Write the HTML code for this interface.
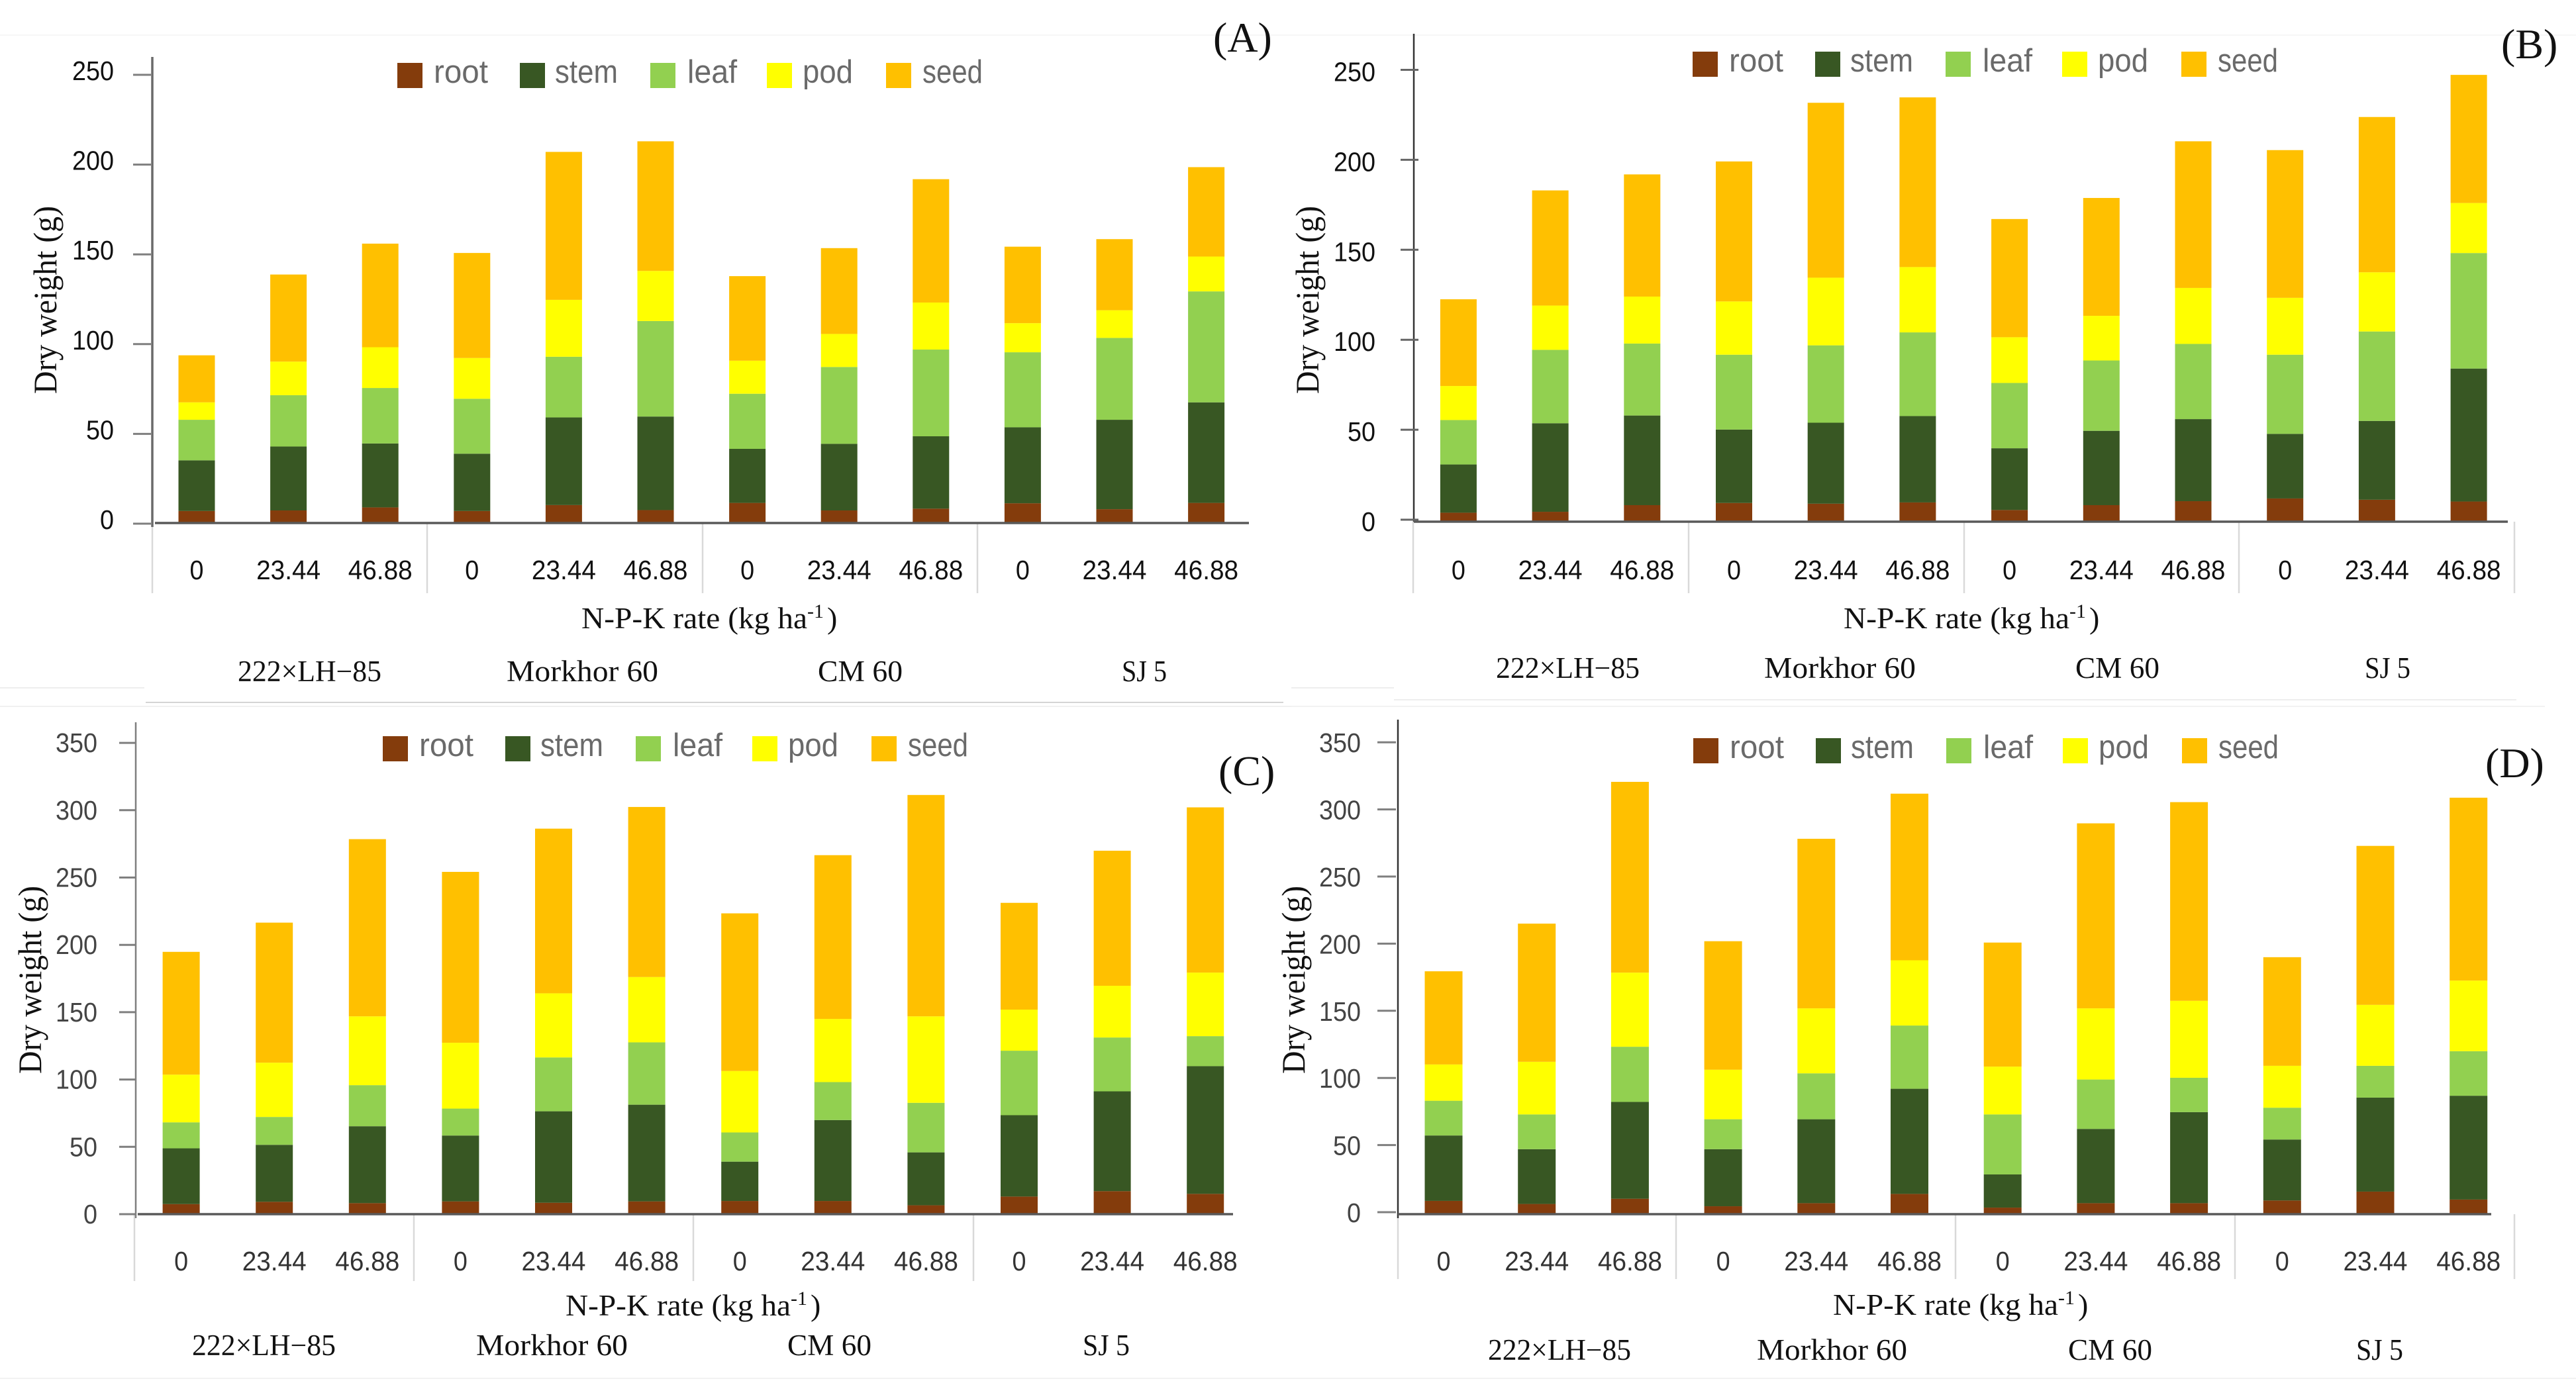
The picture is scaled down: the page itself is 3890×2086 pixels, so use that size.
<!DOCTYPE html>
<html lang="en">
<head>
<meta charset="utf-8">
<title>Dry weight by N-P-K rate</title>
<style>
html,body{margin:0;padding:0;background:#fff;}
svg{display:block;}
.serif{font-family:"Liberation Serif",serif;fill:#111;}
.sans{font-family:"Liberation Sans",sans-serif;fill:#111;}
</style>
</head>
<body>
<svg id="chart" xmlns="http://www.w3.org/2000/svg" width="3890" height="2086" viewBox="0 0 3890 2086">
  <rect x="0" y="0" width="3890" height="2086" fill="#ffffff"/>
  <g fill="none">
    <line x1="0" y1="53" x2="3890" y2="53" stroke="#f6f6f6" stroke-width="2"/>
    <line x1="0" y1="1039" x2="218" y2="1039" stroke="#eeeeee" stroke-width="2"/>
    <line x1="220" y1="1061" x2="1938" y2="1061" stroke="#d4d4d4" stroke-width="2"/>
    <line x1="0" y1="1067" x2="1950" y2="1067" stroke="#f0f0f0" stroke-width="2"/>
    <line x1="1950" y1="1039" x2="2105" y2="1039" stroke="#eeeeee" stroke-width="2"/>
    <line x1="2105" y1="1057" x2="3800" y2="1057" stroke="#eeeeee" stroke-width="2"/>
    <line x1="1950" y1="1067" x2="3843" y2="1067" stroke="#f2f2f2" stroke-width="2"/>
    <line x1="0" y1="2082" x2="3890" y2="2082" stroke="#f2f2f2" stroke-width="2"/>
  </g>
</svg>
<script>
// ---------- chart data ----------
const seriesNames = ['root', 'stem', 'leaf', 'pod', 'seed'];
const rateLabels = ['0', '23.44', '46.88', '0', '23.44', '46.88', '0', '23.44', '46.88', '0', '23.44', '46.88'];
const groupLabels = ['222×LH−85', 'Morkhor 60', 'CM 60', 'SJ 5'];
const ticksLow = [0, 50, 100, 150, 200, 250];
const ticksHigh = [0, 50, 100, 150, 200, 250, 300, 350];

const rootA = [6.7, 7, 8.7, 6.7, 10, 7.2, 11.2, 7, 8, 11, 7.7, 11.2];
const stemA = [28.2, 35.6, 35.6, 31.9, 48.8, 52.1, 30.1, 37.1, 40.3, 42.3, 49.8, 56];
const leafA = [22.6, 28.6, 30.9, 30.6, 33.8, 53.2, 30.7, 42.8, 48.3, 41.8, 45.6, 61.8];
const podA = [9.7, 18.7, 22.7, 22.7, 31.7, 27.9, 18.4, 18.4, 26.2, 16.2, 15.4, 19.4];
const seedA = [26.2, 48.5, 57.7, 58.5, 82.4, 72.2, 47.1, 47.8, 68.7, 42.6, 39.6, 49.8];

const rootB = [5, 5.5, 9.2, 10.4, 10, 10.7, 6.5, 9.2, 11.4, 12.9, 12.2, 11.2];
const stemB = [26.8, 49.2, 49.8, 40.8, 45, 48, 34.3, 41.3, 45.6, 35.9, 43.8, 73.9];
const leafB = [24.7, 40.8, 40, 41.6, 43, 46.5, 36.3, 39.1, 41.8, 44, 49.7, 64.2];
const podB = [18.9, 24.6, 26.1, 29.6, 37.6, 36.3, 25.4, 24.8, 31.1, 31.6, 32.9, 27.8];
const seedB = [48.2, 64, 67.9, 77.8, 97.2, 94.3, 65.7, 65.5, 81.5, 82.1, 86.3, 71.2];

const rootC = [7.5, 9.2, 8.2, 9.5, 8.5, 9.5, 9.8, 9.8, 6.6, 13.1, 17.1, 15.1];
const stemC = [41.4, 42.3, 57.1, 48.9, 67.9, 71.8, 29.2, 60.1, 39.3, 60.4, 74.1, 94.8];
const leafC = [19.3, 20.7, 30.5, 20, 40, 46.3, 21.7, 28.2, 36.8, 47.9, 40, 22.3];
const podC = [35.4, 40.3, 51.1, 48.9, 47.6, 48.5, 45.6, 46.9, 64.2, 30.5, 38.4, 47.2];
const seedC = [91.2, 104, 131.6, 126.9, 122.3, 126.3, 117.1, 121.6, 164.4, 79.3, 100.3, 122.7];

const rootD = [9.9, 7.6, 11.5, 5.9, 8.2, 15.1, 4.9, 8.2, 8.2, 10.2, 16.8, 10.9];
const stemD = [48.7, 40.8, 72.1, 42.5, 62.5, 78.3, 24.7, 55.3, 67.8, 45.4, 70, 77.3];
const leafD = [25.9, 25.9, 41.1, 22.3, 34.2, 47.1, 44.7, 36.8, 25.6, 23.7, 23.7, 33.2];
const podD = [27, 39.2, 55.2, 36.9, 48.4, 48.6, 35.6, 53, 57.3, 31.2, 45.4, 52.6];
const seedD = [69.4, 102.9, 142.1, 95.7, 126.3, 124.1, 92.4, 137.8, 148, 80.9, 118.4, 136.2];

// ---------- styling and layout ----------
const seriesColors = ['#843C0C', '#385723', '#92D050', '#FFFF00', '#FFC000'];
const legendSwatchOffsets = [0, 185, 382, 558, 738];
const legendTextOffsets = [55, 53, 56, 54, 55];
const legendTextWidths = [82, 95, 75, 76, 91];

const panels = [
  { id: 'a', letter: '(A)', letterX: 1832, letterY: 78, series: [rootA, stemA, leafA, podA, seedA], ticks: ticksLow,
    axisX: 230, axisTop: 86, axisBottom: 796, axisColor: '#6a6a6a', axisWidth: 3.5,
    tickX1: 201, tickX2: 228, tickColor: '#7f7f7f', labelRight: 172, labelDy: 8, labelFill: '#111',
    baseY: 790, unit: 2.712, tickShift: 1, baseX1: 234, baseX2: 1886,
    x0: 297, step: 138.6, barW: 55,
    seps: [230, 645, 1061, 1476], sepBottom: 896, rateY: 875, rateFill: '#111',
    titleX1: 878, titleX2: 1265, titleY: 949, groupY: 1029, groups: [[359, 217], [765, 229], [1235, 128], [1694, 68]],
    yTitleX: 85, yTitleTop: 311, yTitleBottom: 595, legendX: 600, legendY: 95 },
  { id: 'b', letter: '(B)', letterX: 3777, letterY: 88, series: [rootB, stemB, leafB, podB, seedB], ticks: ticksLow,
    axisX: 2135, axisTop: 51, axisBottom: 788, axisColor: '#333333', axisWidth: 2.5,
    tickX1: 2115, tickX2: 2142, tickColor: '#666666', labelRight: 2077, labelDy: 17, labelFill: '#111',
    baseY: 788, unit: 2.718, tickShift: -3, baseX1: 2135, baseX2: 3787,
    x0: 2202.4, step: 138.7, barW: 55,
    seps: [2134, 2550, 2966, 3381, 3797], sepBottom: 896, rateY: 875, rateFill: '#111',
    titleX1: 2784, titleX2: 3171, titleY: 949, groupY: 1024, groups: [[2259, 217], [2664, 229], [3134, 127], [3571, 69]],
    yTitleX: 1991, yTitleTop: 311, yTitleBottom: 595, legendX: 2556, legendY: 78 },
  { id: 'c', letter: '(C)', letterX: 1840, letterY: 1186, series: [rootC, stemC, leafC, podC, seedC], ticks: ticksHigh,
    axisX: 205, axisTop: 1091, axisBottom: 1840, axisColor: '#7f7f7f', axisWidth: 2.5,
    tickX1: 180, tickX2: 205, tickColor: '#7f7f7f', labelRight: 147, labelDy: 14, labelFill: '#444',
    baseY: 1834, unit: 2.034, tickShift: 0, baseX1: 208, baseX2: 1862,
    x0: 273.6, step: 140.6, barW: 56,
    seps: [203, 625, 1047, 1470], sepBottom: 1935, rateY: 1919, rateFill: '#333',
    titleX1: 854, titleX2: 1240, titleY: 1987, groupY: 2047, groups: [[290, 217], [719, 229], [1189, 127], [1635, 71]],
    yTitleX: 62, yTitleTop: 1338, yTitleBottom: 1622, legendX: 578, legendY: 1112 },
  { id: 'd', letter: '(D)', letterX: 3753, letterY: 1174, series: [rootD, stemD, leafD, podD, seedD], ticks: ticksHigh,
    axisX: 2111, axisTop: 1087, axisBottom: 1840, axisColor: '#333333', axisWidth: 2.5,
    tickX1: 2080, tickX2: 2108, tickColor: '#7f7f7f', labelRight: 2055, labelDy: 15, labelFill: '#444',
    baseY: 1834, unit: 2.028, tickShift: -3, baseX1: 2111, baseX2: 3762,
    x0: 2180, step: 140.7, barW: 57,
    seps: [2111, 2531, 2953, 3375, 3797], sepBottom: 1932, rateY: 1919, rateFill: '#333',
    titleX1: 2768, titleX2: 3154, titleY: 1986, groupY: 2054, groups: [[2247, 216], [2653, 227], [3123, 127], [3558, 71]],
    yTitleX: 1970, yTitleTop: 1338, yTitleBottom: 1622, legendX: 2557, legendY: 1115 }
];

// ---------- drawing ----------
const NS = 'http://www.w3.org/2000/svg';
const root = document.getElementById('chart');

function xScale(p, i) { return p.x0 + p.step * i; }
function yScale(p, v) { return p.baseY - p.unit * v; }
function numberWidth(str) {
  let w = 0;
  for (const ch of str) w += (ch === '.') ? 13 : 21;
  return w;
}

function shape(parent, tag, name) {
  const el = document.createElementNS(NS, tag);
  
  
  parent.appendChild(el);
  return el;
}
function line(parent, name, x1, y1, x2, y2, color, width) {
  const el = shape(parent, 'line', name);
  el.setAttribute('x1', x1);
  el.setAttribute('y1', y1);
  el.setAttribute('x2', x2);
  el.setAttribute('y2', y2);
  el.setAttribute('stroke', color);
  el.setAttribute('stroke-width', width);
  return el;
}
function label(parent, name, str, x, y, cls, size, anchor, fill, fit) {
  const el = shape(parent, 'text', name);
  el.setAttribute('x', x);
  el.setAttribute('y', y);
  el.setAttribute('class', cls);
  el.setAttribute('font-size', size);
  el.setAttribute('text-anchor', anchor);
  if (fill) el.style.fill = fill;
  if (fit) {
    el.setAttribute('textLength', fit);
    el.setAttribute('lengthAdjust', 'spacingAndGlyphs');
  }
  el.textContent = str;
  return el;
}

panels.forEach(function (p) {
  const g = shape(root, 'g', 'panel-' + p.id);

  // category separators under the axis
  p.seps.forEach(function (x, i) {
    line(g, 'group-separator-' + (i + 1), x, p.baseY, x, p.sepBottom, '#d9d9d9', 2.5);
  });

  // stacked bars
  const nBars = p.series[0].length;
  for (let i = 0; i < nBars; i++) {
    const bar = shape(g, 'g', 'bar-stack-' + (i + 1));
    let total = 0;
    p.series.forEach(function (values, s) {
      const top = yScale(p, total + values[i]);
      const bottom = yScale(p, total);
      const r = shape(bar, 'rect', 'bar-' + seriesNames[s] + '-' + (i + 1));
      r.setAttribute('x', xScale(p, i) - p.barW / 2);
      r.setAttribute('y', top);
      r.setAttribute('width', p.barW);
      r.setAttribute('height', bottom - top);
      r.setAttribute('fill', seriesColors[s]);
      total += values[i];
    });
  }

  // axes
  line(g, 'y-axis-line', p.axisX, p.axisTop, p.axisX, p.axisBottom, p.axisColor, p.axisWidth);
  line(g, 'x-axis-line', p.baseX1, p.baseY, p.baseX2, p.baseY, '#595959', 3.5);

  p.ticks.forEach(function (t) {
    const y = yScale(p, t) + p.tickShift;
    const tickText = String(t);
    line(g, 'y-tick-' + t, p.tickX1, y, p.tickX2, y, p.tickColor, 3);
    label(g, 'y-tick-label-' + t, tickText, p.labelRight, y + p.labelDy, 'sans', 41, 'end', p.labelFill, numberWidth(tickText));
  });

  rateLabels.forEach(function (t, i) {
    label(g, 'x-tick-label-' + (i + 1), t, xScale(p, i), p.rateY, 'sans', 41, 'middle', p.rateFill, numberWidth(t));
  });

  groupLabels.forEach(function (t, i) {
    const spot = p.groups[i];
    label(g, 'group-label-' + (i + 1), t, spot[0], p.groupY, 'serif', 45, 'start', '#111', spot[1]);
  });

  // x-axis title with superscript
  label(g, 'x-axis-title', 'N-P-K rate (kg ha', p.titleX1, p.titleY, 'serif', 46, 'start', '#111', p.titleX2 - p.titleX1 - 46);
  const sup = shape(g, 'text', 'x-axis-title-exponent');
  sup.setAttribute('x', p.titleX2 - 46);
  sup.setAttribute('y', p.titleY - 16);
  sup.setAttribute('class', 'serif');
  sup.setAttribute('font-size', 30);
  sup.textContent = '-1';
  label(g, 'x-axis-title-close', ')', p.titleX2 - 16, p.titleY, 'serif', 46, 'start', '#111');

  // y-axis title
  const yMid = (p.yTitleTop + p.yTitleBottom) / 2;
  const yt = label(g, 'y-axis-title', 'Dry weight (g)', p.yTitleX, yMid, 'serif', 50, 'middle', '#111', p.yTitleBottom - p.yTitleTop);
  yt.setAttribute('transform', 'rotate(-90 ' + p.yTitleX + ' ' + yMid + ')');

  // panel letter
  label(g, 'panel-letter', p.letter, p.letterX, p.letterY, 'serif', 64, 'start', '#111');

  // legend
  const lg = shape(g, 'g', 'legend');
  seriesNames.forEach(function (name, s) {
    const sw = shape(lg, 'rect', 'legend-swatch-' + name);
    sw.setAttribute('x', p.legendX + legendSwatchOffsets[s]);
    sw.setAttribute('y', p.legendY);
    sw.setAttribute('width', 38);
    sw.setAttribute('height', 38);
    sw.setAttribute('fill', seriesColors[s]);
    label(lg, 'legend-label-' + name, name, p.legendX + legendSwatchOffsets[s] + legendTextOffsets[s], p.legendY + 30, 'sans', 49, 'start', '#6a6a6a', legendTextWidths[s]);
  });
});
</script>
</body>
</html>
